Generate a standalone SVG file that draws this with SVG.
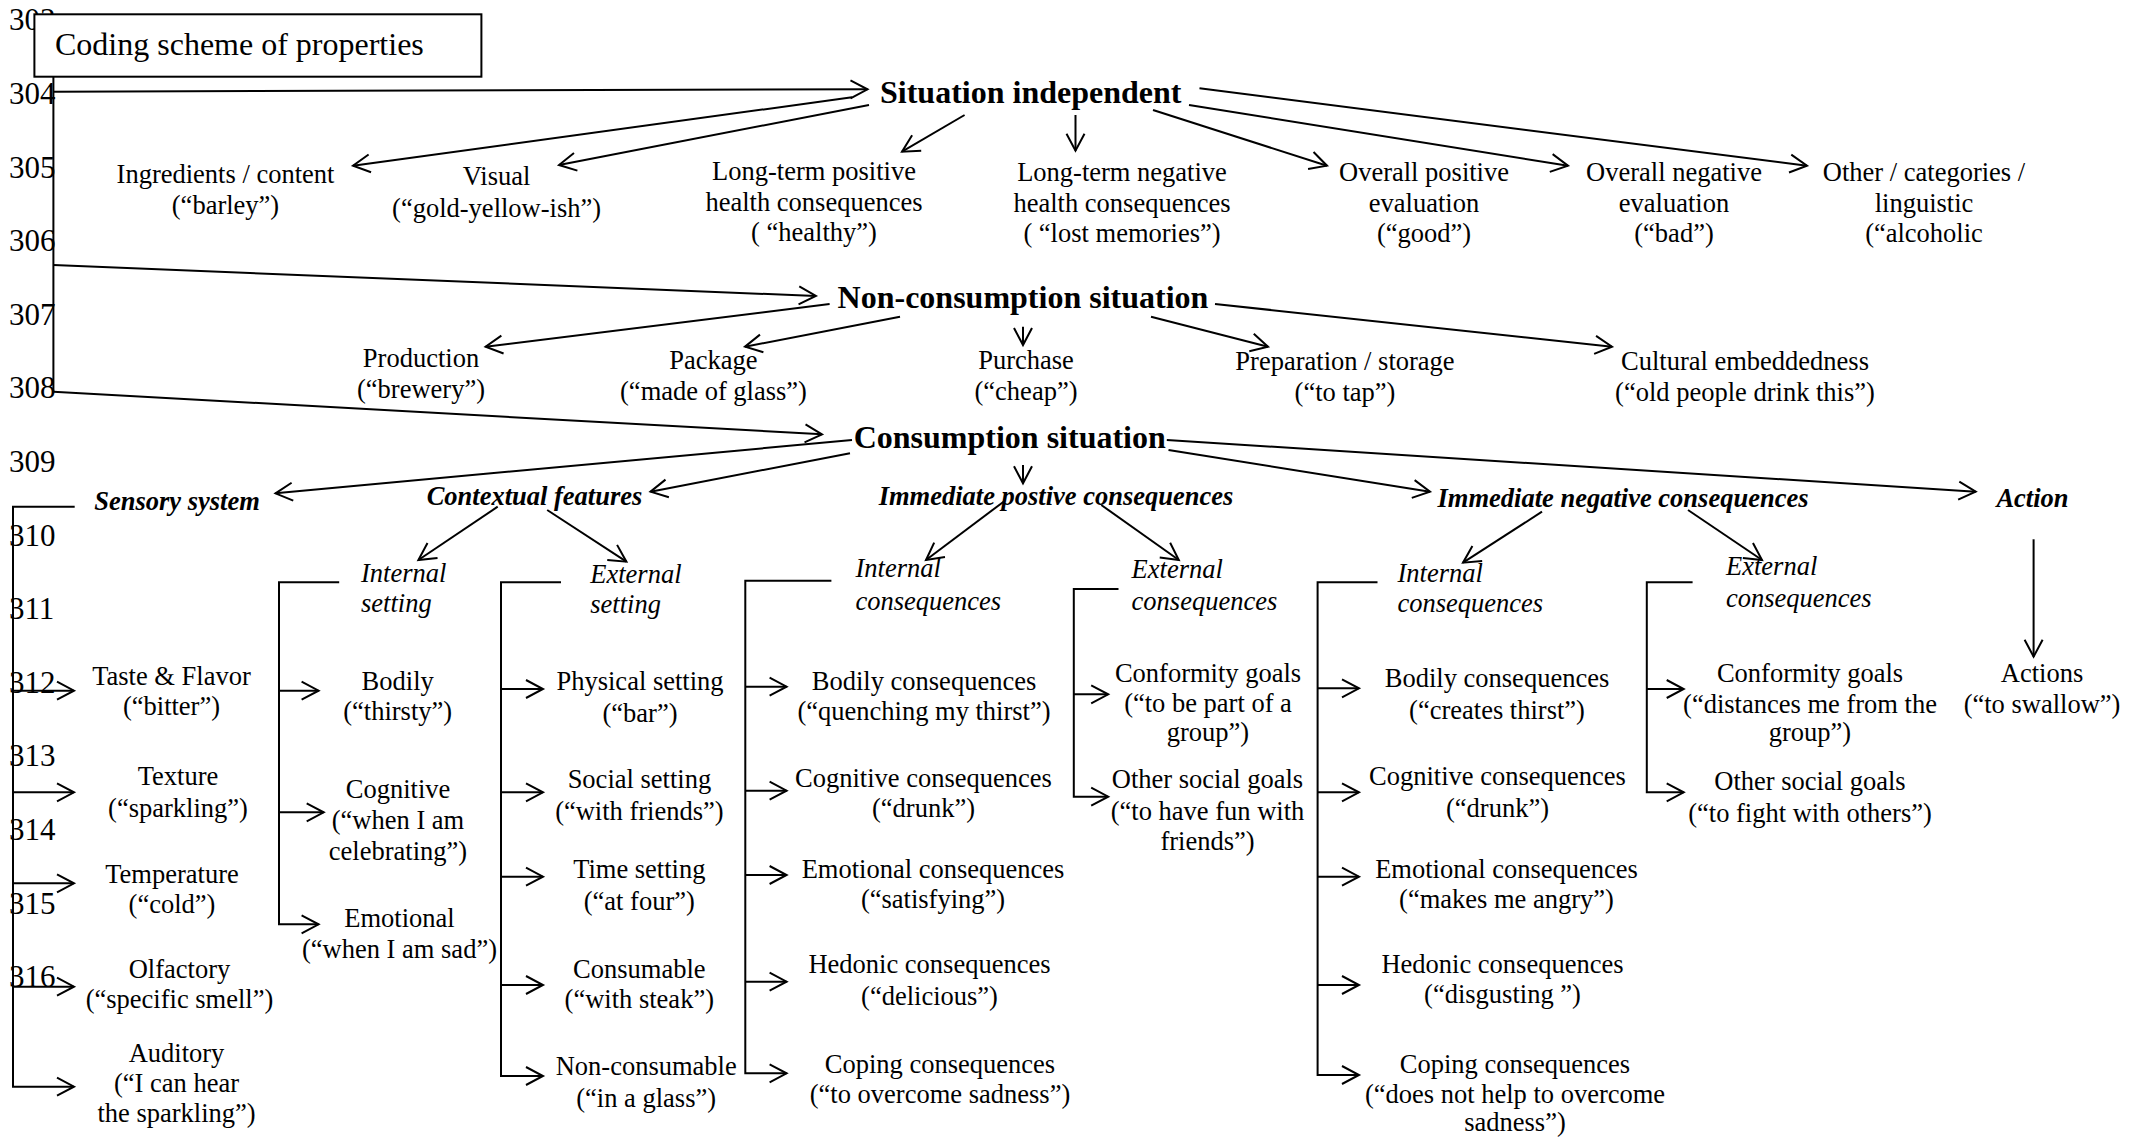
<svg xmlns="http://www.w3.org/2000/svg" width="2132" height="1138" viewBox="0 0 2132 1138">
<style>
text{font-family:"Liberation Serif","Times New Roman",serif;font-size:26.5px;fill:#000}
.c{text-anchor:middle}
.h{font-weight:bold;font-size:32px}
.bi{font-weight:bold;font-style:italic}
.i{font-style:italic}
.ln{font-size:31px}
.ttl{font-size:32px}
#connectors path{stroke:#000;stroke-width:2;fill:none}
.arr{marker-end:url(#a)}
</style>
<defs>
<marker id="a" markerUnits="userSpaceOnUse" markerWidth="22" markerHeight="22" viewBox="-19 -11 22 22" refX="0" refY="0" orient="auto" overflow="visible">
<path d="M-17,-9 L0,0 L-17,9" fill="none" stroke="#000" stroke-width="2"/>
</marker>
</defs>
<rect width="2132" height="1138" fill="#fff"/>
<g id="line-numbers" class="lnum">
<text class="ln" x="9" y="29.5">303</text>
<text class="ln" x="9" y="104">304</text>
<text class="ln" x="9" y="177.6">305</text>
<text class="ln" x="9" y="251.2">306</text>
<text class="ln" x="9" y="324.8">307</text>
<text class="ln" x="9" y="398.4">308</text>
<text class="ln" x="9" y="472">309</text>
<text class="ln" x="9" y="545.6">310</text>
<text class="ln" x="9" y="619.2">311</text>
<text class="ln" x="9" y="692.8">312</text>
<text class="ln" x="9" y="766.4">313</text>
<text class="ln" x="9" y="840">314</text>
<text class="ln" x="9" y="913.6">315</text>
<text class="ln" x="9" y="987.2">316</text>
</g>
<g id="title">
<rect x="34.4" y="14.3" width="447" height="62.4" fill="#fff" stroke="#000" stroke-width="2"/>
<text class="ttl" x="55" y="55">Coding scheme of properties</text>
</g>
<g id="connectors">
<path d="M53.4,76.7 V391.7"/>
<path class="arr" d="M53.4,91.7 L867.5,89.3"/>
<path class="arr" d="M53.4,265 L815.9,296"/>
<path class="arr" d="M53.4,391.7 L822,434.3"/>
<path class="arr" d="M852,97.3 L353,165.7"/>
<path class="arr" d="M869,105 L559,165"/>
<path class="arr" d="M964.6,115 L902,151.7"/>
<path class="arr" d="M1075.5,115 L1075.5,150.7"/>
<path class="arr" d="M1153,110 L1327,165.7"/>
<path class="arr" d="M1189,105 L1568,165.7"/>
<path class="arr" d="M1199.5,88.3 L1807,165.7"/>
<path class="arr" d="M829.6,304 L485.6,346.7"/>
<path class="arr" d="M900,316.7 L745,346.7"/>
<path class="arr" d="M1023,326.7 L1023,345"/>
<path class="arr" d="M1151,316.7 L1268,346.7"/>
<path class="arr" d="M1215,304 L1612,346.7"/>
<path class="arr" d="M852,440 L275.5,493.3"/>
<path class="arr" d="M850,453.3 L650.5,491.7"/>
<path class="arr" d="M1023,465 L1023,483.3"/>
<path class="arr" d="M1168.5,450 L1430,491.7"/>
<path class="arr" d="M1166.8,440 L1975.7,491.7"/>
<path class="arr" d="M497.7,506.7 L418.4,560"/>
<path class="arr" d="M547.2,510 L626.4,561.7"/>
<path class="arr" d="M1003.6,501.7 L926,560"/>
<path class="arr" d="M1101.3,505 L1178.8,560"/>
<path class="arr" d="M1542,511.7 L1463,562.7"/>
<path class="arr" d="M1688,510 L1762,560"/>
<path class="arr" d="M2033.6,539.3 L2033.6,656.7"/>
<path class="arr" d="M74.7,506.7 H13 V1086.7 H74"/>
<path class="arr" d="M13,690.7 H74"/>
<path class="arr" d="M13,792.3 H74"/>
<path class="arr" d="M13,883.3 H74"/>
<path class="arr" d="M13,986.7 H74"/>
<path class="arr" d="M339.2,582.3 H279 V924.3 H318.6"/>
<path class="arr" d="M279,690.7 H318.6"/>
<path class="arr" d="M279,812.3 H323.7"/>
<path class="arr" d="M561,582.3 H501 V1076 H543"/>
<path class="arr" d="M501,689 H543"/>
<path class="arr" d="M501,792.3 H543"/>
<path class="arr" d="M501,876.7 H543"/>
<path class="arr" d="M501,985 H543"/>
<path class="arr" d="M831.4,580.7 H745.3 V1073.3 H786.6"/>
<path class="arr" d="M745.3,686.7 H786.6"/>
<path class="arr" d="M745.3,790.7 H786.6"/>
<path class="arr" d="M745.3,875 H786.6"/>
<path class="arr" d="M745.3,981.7 H786.6"/>
<path class="arr" d="M1118.5,589 H1073.8 V796.7 H1108.2"/>
<path class="arr" d="M1073.8,694.3 H1108.2"/>
<path class="arr" d="M1377.5,582.3 H1317.6 V1075 H1359"/>
<path class="arr" d="M1317.6,688.3 H1359"/>
<path class="arr" d="M1317.6,792.3 H1359"/>
<path class="arr" d="M1317.6,876.7 H1359"/>
<path class="arr" d="M1317.6,985 H1359"/>
<path class="arr" d="M1692.6,582.3 H1646.8 V792.3 H1683.7"/>
<path class="arr" d="M1646.8,689 H1683.7"/>
</g>
<g id="n-situation-independent"><text class="h" x="880" y="103.3">Situation independent</text></g>
<g id="n-non-consumption"><text class="h" x="837.6" y="308.3">Non-consumption situation</text></g>
<g id="n-consumption"><text class="h" x="853.7" y="448.3">Consumption situation</text></g>

<g id="n-ingredients"><text class="c"><tspan x="225.5" y="183.3">Ingredients / content</tspan><tspan x="225.5" y="213.5">(“barley”)</tspan></text></g>
<g id="n-visual"><text class="c"><tspan x="496.6" y="185">Visual</tspan><tspan x="496.6" y="216.5">(“gold-yellow-ish”)</tspan></text></g>
<g id="n-lt-positive"><text class="c"><tspan x="814" y="180">Long-term positive</tspan><tspan x="814" y="210.5">health consequences</tspan><tspan x="814" y="241">( “healthy”)</tspan></text></g>
<g id="n-lt-negative"><text class="c"><tspan x="1122" y="180.5">Long-term negative</tspan><tspan x="1122" y="211.5">health consequences</tspan><tspan x="1122" y="242">( “lost memories”)</tspan></text></g>
<g id="n-overall-positive"><text class="c"><tspan x="1424" y="180.5">Overall positive</tspan><tspan x="1424" y="211.5">evaluation</tspan><tspan x="1424" y="242">(“good”)</tspan></text></g>
<g id="n-overall-negative"><text class="c"><tspan x="1674" y="180.5">Overall negative</tspan><tspan x="1674" y="211.5">evaluation</tspan><tspan x="1674" y="242">(“bad”)</tspan></text></g>
<g id="n-other"><text class="c"><tspan x="1924" y="181">Other / categories /</tspan><tspan x="1924" y="212">linguistic</tspan><tspan x="1924" y="242">(“alcoholic</tspan></text></g>

<g id="n-production"><text class="c"><tspan x="421" y="367">Production</tspan><tspan x="421" y="398">(“brewery”)</tspan></text></g>
<g id="n-package"><text class="c"><tspan x="713.5" y="368.5">Package</tspan><tspan x="713.5" y="399.5">(“made of glass”)</tspan></text></g>
<g id="n-purchase"><text class="c"><tspan x="1026" y="368.5">Purchase</tspan><tspan x="1026" y="399.5">(“cheap”)</tspan></text></g>
<g id="n-preparation"><text class="c"><tspan x="1345" y="370">Preparation / storage</tspan><tspan x="1345" y="401">(“to tap”)</tspan></text></g>
<g id="n-cultural"><text class="c"><tspan x="1745" y="370">Cultural embeddedness</tspan><tspan x="1745" y="401">(“old people drink this”)</tspan></text></g>

<g id="n-sensory"><text class="bi c" x="177" y="510">Sensory system</text></g>
<g id="n-contextual"><text class="bi c" x="534.5" y="505">Contextual features</text></g>
<g id="n-imm-positive"><text class="bi c" x="1056" y="505">Immediate postive consequences</text></g>
<g id="n-imm-negative"><text class="bi c" x="1623" y="506.7">Immediate negative consequences</text></g>
<g id="n-action"><text class="bi c" x="2032.5" y="506.7">Action</text></g>

<g id="n-internal-setting"><text class="i"><tspan x="361" y="581.7">Internal</tspan><tspan x="361" y="611.7">setting</tspan></text></g>
<g id="n-external-setting"><text class="i"><tspan x="590.3" y="583.3">External</tspan><tspan x="590.3" y="613.3">setting</tspan></text></g>
<g id="n-pos-internal"><text class="i"><tspan x="855.5" y="576.7">Internal</tspan><tspan x="855.5" y="610">consequences</tspan></text></g>
<g id="n-pos-external"><text class="i"><tspan x="1131.6" y="578.3">External</tspan><tspan x="1131.6" y="610">consequences</tspan></text></g>
<g id="n-neg-internal"><text class="i"><tspan x="1397.5" y="581.7">Internal</tspan><tspan x="1397.5" y="611.7">consequences</tspan></text></g>
<g id="n-neg-external"><text class="i"><tspan x="1726" y="575">External</tspan><tspan x="1726" y="606.7">consequences</tspan></text></g>

<g id="n-taste"><text class="c"><tspan x="171.5" y="685">Taste &amp; Flavor</tspan><tspan x="171.5" y="715">(“bitter”)</tspan></text></g>
<g id="n-texture"><text class="c"><tspan x="178" y="785">Texture</tspan><tspan x="178" y="816.5">(“sparkling”)</tspan></text></g>
<g id="n-temperature"><text class="c"><tspan x="172" y="883.3">Temperature</tspan><tspan x="172" y="913.3">(“cold”)</tspan></text></g>
<g id="n-olfactory"><text class="c"><tspan x="179.5" y="978.3">Olfactory</tspan><tspan x="179.5" y="1008.3">(“specific smell”)</tspan></text></g>
<g id="n-auditory"><text class="c"><tspan x="176.5" y="1061.7">Auditory</tspan><tspan x="176.5" y="1091.7">(“I can hear</tspan><tspan x="176.5" y="1121.7">the sparkling”)</tspan></text></g>

<g id="n-bodily"><text class="c"><tspan x="397.7" y="690">Bodily</tspan><tspan x="397.7" y="720">(“thirsty”)</tspan></text></g>
<g id="n-cognitive"><text class="c"><tspan x="398" y="798.3">Cognitive</tspan><tspan x="398" y="829">(“when I am</tspan><tspan x="398" y="859.5">celebrating”)</tspan></text></g>
<g id="n-emotional"><text class="c"><tspan x="399.5" y="926.7">Emotional</tspan><tspan x="399.5" y="958">(“when I am sad”)</tspan></text></g>

<g id="n-physical"><text class="c"><tspan x="640" y="690">Physical setting</tspan><tspan x="640" y="721.5">(“bar”)</tspan></text></g>
<g id="n-social"><text class="c"><tspan x="639.4" y="788.3">Social setting</tspan><tspan x="639.4" y="820">(“with friends”)</tspan></text></g>
<g id="n-time"><text class="c"><tspan x="639.3" y="878.3">Time setting</tspan><tspan x="639.3" y="910">(“at four”)</tspan></text></g>
<g id="n-consumable"><text class="c"><tspan x="639.3" y="978.3">Consumable</tspan><tspan x="639.3" y="1008.3">(“with steak”)</tspan></text></g>
<g id="n-non-consumable"><text class="c"><tspan x="646.2" y="1075">Non-consumable</tspan><tspan x="646.2" y="1106.5">(“in a glass”)</tspan></text></g>

<g id="n-pos-bodily"><text class="c"><tspan x="924" y="690">Bodily consequences</tspan><tspan x="924" y="720">(“quenching my thirst”)</tspan></text></g>
<g id="n-pos-cognitive"><text class="c"><tspan x="923.5" y="786.7">Cognitive consequences</tspan><tspan x="923.5" y="816.7">(“drunk”)</tspan></text></g>
<g id="n-pos-emotional"><text class="c"><tspan x="933" y="878.3">Emotional consequences</tspan><tspan x="933" y="908.3">(“satisfying”)</tspan></text></g>
<g id="n-pos-hedonic"><text class="c"><tspan x="929.5" y="973.3">Hedonic consequences</tspan><tspan x="929.5" y="1005">(“delicious”)</tspan></text></g>
<g id="n-pos-coping"><text class="c"><tspan x="940" y="1073.3">Coping consequences</tspan><tspan x="940" y="1103.3">(“to overcome sadness”)</tspan></text></g>

<g id="n-pos-conformity"><text class="c"><tspan x="1208" y="681.7">Conformity goals</tspan><tspan x="1208" y="711.7">(“to be part of a</tspan><tspan x="1208" y="740.5">group”)</tspan></text></g>
<g id="n-pos-social"><text class="c"><tspan x="1207.5" y="788.3">Other social goals</tspan><tspan x="1207.5" y="820">(“to have fun with</tspan><tspan x="1207.5" y="850">friends”)</tspan></text></g>

<g id="n-neg-bodily"><text class="c"><tspan x="1497" y="687">Bodily consequences</tspan><tspan x="1497" y="719">(“creates thirst”)</tspan></text></g>
<g id="n-neg-cognitive"><text class="c"><tspan x="1497.5" y="785">Cognitive consequences</tspan><tspan x="1497.5" y="816.7">(“drunk”)</tspan></text></g>
<g id="n-neg-emotional"><text class="c"><tspan x="1506.5" y="878.3">Emotional consequences</tspan><tspan x="1506.5" y="908.3">(“makes me angry”)</tspan></text></g>
<g id="n-neg-hedonic"><text class="c"><tspan x="1502.5" y="973.3">Hedonic consequences</tspan><tspan x="1502.5" y="1003.3">(“disgusting ”)</tspan></text></g>
<g id="n-neg-coping"><text class="c"><tspan x="1515" y="1073.3">Coping consequences</tspan><tspan x="1515" y="1103.3">(“does not help to overcome</tspan><tspan x="1515" y="1131">sadness”)</tspan></text></g>

<g id="n-neg-conformity"><text class="c"><tspan x="1810" y="681.7">Conformity goals</tspan><tspan x="1810" y="713.3">(“distances me from the</tspan><tspan x="1810" y="741">group”)</tspan></text></g>
<g id="n-neg-social"><text class="c"><tspan x="1810" y="790">Other social goals</tspan><tspan x="1810" y="821.7">(“to fight with others”)</tspan></text></g>

<g id="n-actions"><text class="c"><tspan x="2042" y="681.7">Actions</tspan><tspan x="2042" y="713.3">(“to swallow”)</tspan></text></g>
</svg>
